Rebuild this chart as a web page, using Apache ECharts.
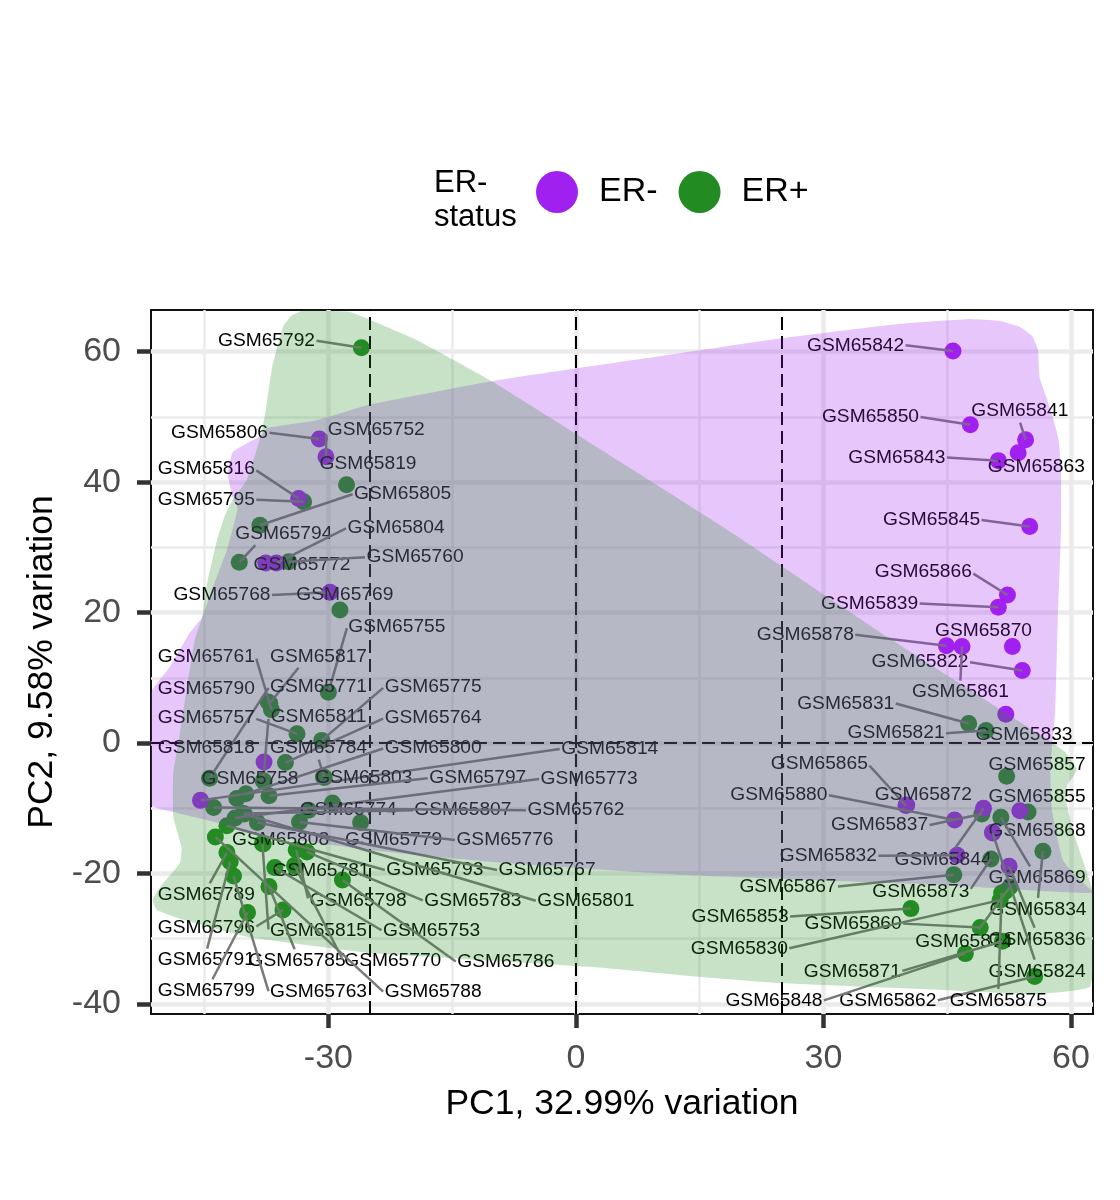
<!DOCTYPE html>
<html>
<head>
<meta charset="utf-8">
<style>html,body{margin:0;padding:0;background:#fff}#chart{width:1120px;height:1200px}</style>
<script src="https://cdn.jsdelivr.net/npm/echarts@6/dist/echarts.min.js"></script>
</head>
<body>
<div id="chart"></div>
<script>
// Samples: id, PC1, PC2, ER status (0 = ER-, 1 = ER+)
const sampleIds = [65792,65806,65752,65819,65816,65795,65805,65794,65804,65772,65760,65768,65769,65755,65761,65817,65790,65771,65775,65757,65811,65764,65818,65784,65800,65814,65758,65803,65797,65773,65774,65807,65762,65808,65779,65776,65793,65767,65781,65783,65801,65789,65798,65753,65786,65796,65815,65791,65785,65770,65799,65763,65788,
65842,65850,65841,65863,65843,65845,65866,65839,65878,65870,65822,65861,65833,65821,65831,65865,65857,65880,65872,65837,65844,65855,65868,65869,65832,65873,65836,65824,65862,65867,65834,65853,65860,65830,65874,65871,65848,65875];
const pc1 = [-26.0,-31.1,-30.3,-27.8,-33.6,-33.0,-38.3,-40.8,-36.3,-37.6,-34.8,-29.8,-28.6,-30.0,-36.9,-37.1,-37.3,-44.4,-30.8,-33.8,-37.9,-35.2,-37.8,-30.5,-40.0,-45.5,-37.8,-30.6,-37.2,-41.3,-29.5,-40.3,-43.9,-37.9,-26.1,-33.5,-42.3,-38.6,-34.0,-32.6,-40.2,-42.3,-33.9,-36.5,-28.3,-35.5,-38.0,-41.9,-37.2,-34.1,-39.8,-41.5,-43.7,
45.7,47.8,54.5,53.6,51.2,55.0,52.3,51.2,44.9,52.9,54.1,46.8,52.1,49.7,47.6,40.0,52.2,45.9,40.1,49.2,49.4,53.8,50.5,51.5,46.2,50.3,52.5,50.5,55.6,45.8,56.6,40.6,49.0,51.4,52.6,51.7,47.2,51.6];
const pc2 = [60.6,46.6,43.9,39.6,37.5,37.0,33.4,27.7,27.6,27.6,27.8,23.1,20.4,7.8,5.1,6.1,6.3,-5.4,0.4,1.4,-5.8,-3.0,-2.9,-5.3,-7.8,-8.8,-5.9,-5.2,-8.1,-11.5,-9.2,-10.8,-9.9,-15.5,-12.2,-12.1,-12.7,-12.2,-18.9,-16.7,-10.9,-16.8,-16.4,-19.1,-21.0,-25.6,-15.4,-18.2,-22.0,-18.8,-26.0,-20.4,-14.4,
60.1,48.8,46.5,44.5,43.3,33.2,22.7,20.8,14.9,14.8,11.1,14.8,4.4,1.9,3.0,-9.6,-5.1,-11.8,-9.5,-10.9,-10.0,-10.4,-13.7,-11.4,-17.2,-17.8,-18.9,-13.8,-35.8,-20.2,-16.6,-25.4,-28.3,-24.1,-22.1,-30.4,-32.3,-23.0];
const erStatus = [1,0,0,1,0,1,1,1,0,0,1,0,1,1,1,1,1,1,1,1,1,1,0,1,1,0,1,1,1,1,1,1,1,1,1,1,1,1,1,1,1,1,1,1,1,1,1,1,1,1,1,1,1,
0,0,0,0,0,0,0,0,0,0,0,0,0,1,1,0,1,0,0,1,0,0,0,1,0,1,0,0,1,1,1,1,1,1,1,1,1,1];
// Samples that show as dots without a readable label of their own
const extraPc1 = [-32.4,-41.1,54.8,52.0];
const extraPc2 = [-10.3,-8.5,-10.6,-22.8];
const extraStatus = [1,1,1,1];
// Where each sample's repelled label sits, in PC units
const labelPc1 = [-37.5,-43.2,-24.2,-25.2,-44.8,-44.8,-21.0,-35.4,-21.8,-33.2,-19.5,-42.9,-28.0,-21.7,-44.8,-31.2,-44.8,-31.2,-17.3,-44.8,-31.2,-17.3,-44.8,-31.2,-17.3,4.1,-39.5,-25.7,-11.9,1.6,-27.6,-13.7,0,-35.8,-22.1,-8.6,-17.1,-3.5,-30.9,-12.5,1.2,-44.8,-26.4,-17.5,-8.5,-44.8,-31.2,-44.8,-33.8,-22.2,-44.8,-31.2,-17.3,
33.9,35.7,53.8,55.8,38.9,43.1,42.1,35.6,27.8,49.4,41.7,46.6,54.3,38.8,32.7,29.5,55.9,24.6,42.1,36.8,44.5,55.9,55.9,55.9,30.6,41.8,55.9,55.9,37.8,25.7,56.0,19.9,33.6,19.8,47.0,33.5,24.0,51.2];
const labelPc2 = [61.7,47.6,48.1,42.9,42.0,37.3,38.2,32.1,33.0,27.4,28.5,22.7,22.7,17.9,13.3,13.3,8.4,8.6,8.6,3.8,4.0,3.8,-0.8,-0.8,-0.8,-0.9,-5.5,-5.4,-5.4,-5.5,-10.2,-10.3,-10.3,-14.9,-14.9,-14.9,-19.5,-19.5,-19.6,-24.2,-24.2,-23.3,-24.2,-28.8,-33.6,-28.4,-28.8,-33.3,-33.4,-33.4,-38.0,-38.2,-38.2,
61.0,50.0,50.9,42.4,43.8,34.2,26.2,21.4,16.6,17.2,12.4,7.8,1.3,1.5,6.1,-3.2,-3.4,-8.0,-8.0,-12.6,-17.9,-8.3,-13.5,-20.7,-17.3,-22.8,-30.1,-35.0,-39.5,-22.0,-25.5,-26.6,-27.7,-31.5,-30.4,-35.0,-39.5,-39.5];
// Encircling hulls
const hullNegPc1 = [-51.5,-49.2,-46.8,-45.3,-44.0,-42.3,-41.0,-41.6,-42.2,-41.6,-39.8,-38.1,-37.5,-31.4,-25.3,-9.2,17.5,25.1,39.3,47.4,51.4,53.8,55.3,56.0,56.2,57.0,57.8,58.5,58.8,58.8,58.4,58.1,57.7,57.5,57.7,59.0,60.7,62.7,45.0,12.6,-9.6,-25.0,-39.5,-43.2,-48.8,-51.5];
const hullNegPc2 = [7.7,11.7,16.9,19.3,23.9,29.6,36.0,37.7,41.4,44.6,46.0,47.2,48.3,49.5,51.8,55.7,60.7,62.1,64.3,65.0,64.7,63.8,62.4,60.3,56.1,53.1,50.0,46.5,41.9,33.1,18.9,5.1,-0.6,-4.6,-10.3,-17.9,-20.6,-23.0,-21.8,-20.2,-18.3,-16.4,-13.8,-12.3,-10.6,-9.5];
const hullPosPc1 = [-33.1,-27.4,-24.4,-19.3,-10.1,17.5,37.7,57.8,59.3,60.7,59.6,59.3,60.2,62.7,63.0,62.3,59.0,55.0,45.0,24.7,12.6,2.5,-14.9,-25.0,-39.5,-47.6,-50.8,-51.3,-50.4,-48.0,-47.8,-48.8,-48.8,-48.0,-47.2,-46.2,-45.3,-44.7,-43.5,-42.5,-41.6,-39.9,-38.1,-37.5,-36.8,-35.5,-34.5];
const hullPosPc2 = [66.3,66.1,64.6,61.8,55.4,33.4,16.3,0,-1.4,-4.1,-6.4,-8.0,-13.3,-23.0,-31.3,-37.4,-38.2,-38.5,-37.9,-36.8,-35.6,-34.4,-33.0,-32.2,-29.8,-27.1,-25.6,-24.1,-22.1,-18.4,-16.0,-11.3,-4.6,1.5,8.1,15.8,19.3,24.5,31.1,35.0,37.3,40.3,47.5,51.8,57.7,63.8,65.5];
// Axes
const xTickValues = [-30,0,30,60];
const yTickValues = [-40,-20,0,20,40,60];
const xMinorValues = [-45,-15,15,45];
const yMinorValues = [-30,-10,10,30,50];
const xCutoffs = [-25,0,25];
const yCutoffs = [0];
const xName = 'PC1, 32.99% variation';
const yName = 'PC2, 9.58% variation';
const legendTitle = 'ER-\nstatus';
const legendNames = ['ER-','ER+'];

const FONT = '"Liberation Sans", Arial, sans-serif';
const PURPLE = '#A020F0', GREEN = '#228B22';
const LABEL_W = 50, LABEL_H = 11.5;
const gridLine = (axis, v, w) => ({[axis]: v, lineStyle: {color: '#EBEBEB', width: w, type: 'solid'}});
const dots = (st) => {
  const out = [];
  sampleIds.forEach((id, i) => { if (erStatus[i] === st) out.push([pc1[i], pc2[i]]); });
  extraPc1.forEach((x, i) => { if (extraStatus[i] === st) out.push([x, extraPc2[i]]); });
  return out;
};
// ggrepel's way of choosing where a connector leaves the label's box
function connectorStart(p, c) {
  const x1 = c[0]-LABEL_W, x2 = c[0]+LABEL_W, y1 = c[1]-LABEL_H, y2 = c[1]+LABEL_H;
  const out = [p[0], p[1]];
  let hx = false, hy = false;
  if (p[0] > x2) { out[0] = x2; hx = true; } else if (p[0] < x1) { out[0] = x1; hx = true; }
  if (p[1] > y2) { out[1] = y2; hy = true; } else if (p[1] < y1) { out[1] = y1; hy = true; }
  const d = Math.hypot(p[0]-out[0], p[1]-out[1]);
  if (hy && !hx) {
    out[0] += (c[0]-out[0]) * d / Math.hypot(p[0]-c[0], p[1]-out[1]);
  } else if (hx && !hy) {
    out[1] += (c[1]-out[1]) * d / Math.hypot(p[0]-out[0], p[1]-c[1]);
  } else if (hx && hy) {
    const a1 = Math.hypot(p[0]-c[0], p[1]-out[1]);
    const a2 = Math.hypot(p[0]-out[0], p[1]-c[1]);
    if (a1 < a2) out[0] += (c[0]-out[0]) * d / a1;
    else out[1] += (c[1]-out[1]) * d / a2;
  }
  return {out, inside: !hx && !hy, len: Math.hypot(p[0]-out[0], p[1]-out[1])};
}
const hull = (name, xs, ys, color) => ({
  type: 'custom', name, coordinateSystem: 'cartesian2d', clip: true, silent: true, z: 6,
  data: [[xs[0], ys[0]]],
  renderItem: (p, api) => ({
    type: 'polygon',
    shape: {points: xs.map((x, i) => api.coord([x, ys[i]])), smooth: 0.12},
    style: {fill: color, opacity: 0.25}
  })
});
const option = {
  animation: false,
  textStyle: {fontFamily: FONT},
  title: {text: legendTitle, left: 429, top: 161, textStyle: {fontFamily: FONT, fontSize: 31, fontWeight: 'normal', color: '#000', lineHeight: 34}},
  legend: {
    data: legendNames, left: 531, top: 166, icon: 'circle', itemWidth: 42, itemHeight: 42, itemGap: 21,
    textStyle: {fontFamily: FONT, fontSize: 34, color: '#000', padding: [2,0,0,16]}, selectedMode: false
  },
  grid: {left: 151, top: 310, width: 942, height: 704, show: true, borderColor: '#111', borderWidth: 2, backgroundColor: '#fff'},
  xAxis: {
    type: 'value', min: -51.5, max: 62.67, name: xName, nameLocation: 'middle', nameGap: 72,
    nameTextStyle: {fontFamily: FONT, fontSize: 35.5, color: '#000'},
    axisLine: {show: false, onZero: false}, splitLine: {show: false},
    axisTick: {show: true, length: 14, lineStyle: {color: '#333', width: 4.5}, customValues: xTickValues},
    axisLabel: {fontFamily: FONT, fontSize: 34, color: '#4D4D4D', margin: 28, customValues: xTickValues}
  },
  yAxis: {
    type: 'value', min: -41.56, max: 66.4, name: yName, nameLocation: 'middle', nameGap: 91,
    nameTextStyle: {fontFamily: FONT, fontSize: 35.5, color: '#000'},
    axisLine: {show: false, onZero: false}, splitLine: {show: false},
    axisTick: {show: true, length: 14, lineStyle: {color: '#333', width: 4.5}, customValues: yTickValues},
    axisLabel: {fontFamily: FONT, fontSize: 34, color: '#4D4D4D', margin: 30, padding: [3,0,0,0], customValues: yTickValues}
  },
  series: [
    {type: 'line', name: 'gridlines', data: [], silent: true, z: 1,
     markLine: {silent: true, symbol: 'none', label: {show: false}, z: 1, animation: false, data: [
       ...xMinorValues.map(v => gridLine('xAxis', v, 2.5)), ...yMinorValues.map(v => gridLine('yAxis', v, 2.5)),
       ...xTickValues.map(v => gridLine('xAxis', v, 4.5)), ...yTickValues.map(v => gridLine('yAxis', v, 4.5))
     ]}},
    {type: 'scatter', name: legendNames[1], data: dots(1), symbolSize: 17, z: 2, silent: true, itemStyle: {color: GREEN, opacity: 1}},
    {type: 'scatter', name: legendNames[0], data: dots(0), symbolSize: 17, z: 2, silent: true, itemStyle: {color: PURPLE, opacity: 1}},
    {type: 'line', name: 'cutoffs', data: [], silent: true, z: 3,
     markLine: {silent: true, symbol: 'none', label: {show: false}, z: 3, animation: false,
       lineStyle: {color: '#000', width: 2, type: [13,6]},
       data: [...xCutoffs.map(v => ({xAxis: v})), ...yCutoffs.map(v => ({yAxis: v}))]}},
    {type: 'custom', name: 'labels', coordinateSystem: 'cartesian2d', clip: true, silent: true, z: 4,
     data: sampleIds.map((id, i) => [labelPc1[i], labelPc2[i]]),
     renderItem: (p, api) => {
       const i = p.dataIndex;
       const c = api.coord([labelPc1[i], labelPc2[i]]);
       const q = api.coord([pc1[i], pc2[i]]);
       const s = connectorStart(q, c);
       const kids = [];
       if (!s.inside && s.len > 17) {
         kids.push({type:'line', shape:{x1:s.out[0], y1:s.out[1], x2:q[0], y2:q[1]}, style:{stroke:'#7a7a7a', lineWidth:2.5}});
       }
       kids.push({type:'text', style:{x:c[0], y:c[1], text:'GSM'+sampleIds[i], align:'center', verticalAlign:'middle', fontFamily:FONT, fontSize:19.2, fill:'#000'}});
       return {type:'group', children:kids};
     }},
    hull('ER- hull', hullNegPc1, hullNegPc2, PURPLE),
    hull('ER+ hull', hullPosPc1, hullPosPc2, GREEN)
  ]
};
const chart = echarts.init(document.getElementById('chart'), null, {renderer: 'canvas'});
chart.setOption(option);
</script>
</body>
</html>
